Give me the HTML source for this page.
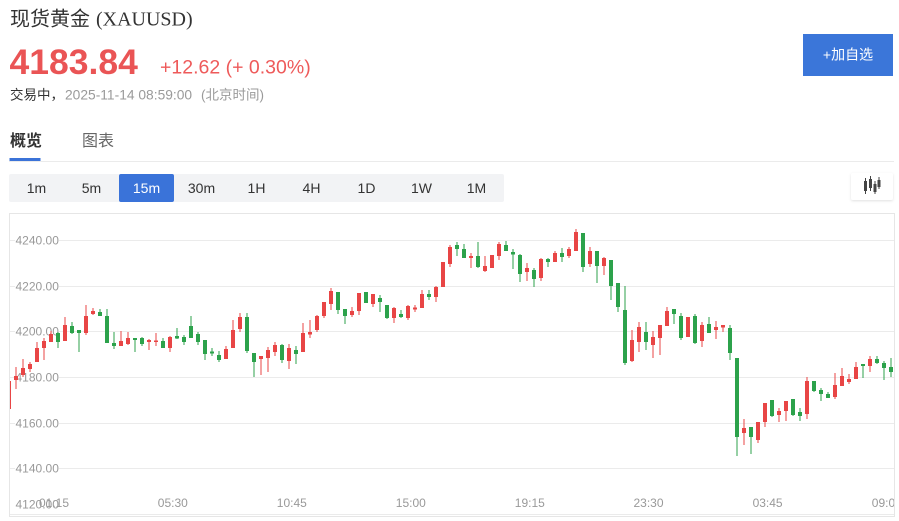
<!DOCTYPE html>
<html>
<head>
<meta charset="utf-8">
<style>
html,body{margin:0;padding:0;background:#fff;width:899px;height:521px;overflow:hidden;}
svg{display:block;}
text{font-family:"Liberation Sans","Noto Sans CJK SC",sans-serif;}
</style>
</head>
<body>
<svg width="899" height="521" viewBox="0 0 899 521" xmlns="http://www.w3.org/2000/svg">
<defs>
<clipPath id="cc"><rect x="10" y="214" width="884" height="302"/></clipPath>
<filter id="sh" x="-20%" y="-20%" width="140%" height="150%"><feDropShadow dx="0" dy="1" stdDeviation="1.2" flood-color="#000" flood-opacity="0.12"/></filter>
</defs>
<rect width="899" height="521" fill="#fff"/>

<text x="10" y="25.5" font-size="20" fill="#333">现货黄金</text>
<text x="96" y="25.5" font-size="20" fill="#333" style="font-family:'Liberation Serif',serif">(XAUUSD)</text>

<text x="9.5" y="74" font-size="35.5" font-weight="bold" fill="#ea5455">4183.84</text>
<text x="160" y="73.5" font-size="19.5" fill="#ee5a5a">+12.62 (+ 0.30%)</text>

<text x="10" y="99.5" font-size="13.5" fill="#333">交易中，</text>
<text x="65" y="99.5" font-size="13.8" fill="#9a9a9a">2025-11-14 08:59:00</text>
<text x="201" y="99.5" font-size="13.5" fill="#9a9a9a">(北京时间)</text>

<rect x="803" y="34" width="90" height="42" fill="#3b76d9"/>
<text x="848" y="59.5" font-size="14" fill="#fff" text-anchor="middle">+加自选</text>

<text x="10" y="146" font-size="16" font-weight="bold" fill="#333">概览</text>
<text x="82" y="146" font-size="16" fill="#666">图表</text>
<rect x="9.5" y="158" width="31" height="3" fill="#3b73d8"/>
<line x1="9" y1="161.5" x2="894" y2="161.5" stroke="#ebebeb" stroke-width="1"/>

<rect x="9" y="174" width="495" height="28" rx="2" fill="#f2f3f5"/>
<rect x="119" y="174" width="55" height="28" rx="2" fill="#3a73d9"/>
<g font-size="14" fill="#333" text-anchor="middle">
<text x="36.5" y="193">1m</text>
<text x="91.5" y="193">5m</text>
<text x="146.5" y="193" fill="#fff">15m</text>
<text x="201.5" y="193">30m</text>
<text x="256.5" y="193">1H</text>
<text x="311.5" y="193">4H</text>
<text x="366.5" y="193">1D</text>
<text x="421.5" y="193">1W</text>
<text x="476.5" y="193">1M</text>
</g>

<rect x="851" y="173" width="42" height="27" rx="2" fill="#fff" filter="url(#sh)"/>
<g fill="#444">
<rect x="865" y="178" width="1" height="16"/><rect x="864" y="181" width="3" height="10"/>
<rect x="870" y="176" width="1" height="15"/><rect x="869" y="179" width="3" height="9"/>
<rect x="874.5" y="181" width="1" height="13"/><rect x="873.5" y="184" width="3" height="8"/>
<rect x="878.5" y="177" width="1" height="12"/><rect x="877.5" y="180" width="3" height="7"/>
</g>

<rect x="9.5" y="213.5" width="885" height="303" fill="#fff" stroke="#e6e6e6" stroke-width="1"/>

<g stroke="#ebebeb" stroke-width="1">
<line x1="10" y1="240.5" x2="894" y2="240.5"/>
<line x1="10" y1="286.5" x2="894" y2="286.5"/>
<line x1="10" y1="331.5" x2="894" y2="331.5"/>
<line x1="10" y1="377.5" x2="894" y2="377.5"/>
<line x1="10" y1="423.5" x2="894" y2="423.5"/>
<line x1="10" y1="468.5" x2="894" y2="468.5"/>
<line x1="10" y1="514.5" x2="894" y2="514.5"/>
</g>

<g fill="#fff">
<rect x="15" y="234" width="44" height="13"/>
<rect x="15" y="280" width="44" height="13"/>
<rect x="15" y="325" width="44" height="13"/>
<rect x="15" y="371" width="44" height="13"/>
<rect x="15" y="417" width="44" height="13"/>
<rect x="15" y="462" width="44" height="13"/>
</g>
<g font-size="12" fill="#999">
<text x="15.5" y="244.5">4240.00</text>
<text x="15.5" y="290.5">4220.00</text>
<text x="15.5" y="335.5">4200.00</text>
<text x="15.5" y="381.5">4180.00</text>
<text x="15.5" y="427.5">4160.00</text>
<text x="15.5" y="472.5">4140.00</text>
<text x="15.5" y="508.5">4120.00</text>
</g>

<g clip-path="url(#cc)">
<g font-size="12" fill="#999" text-anchor="middle">
<text x="54" y="507">01:15</text>
<text x="172.8" y="507">05:30</text>
<text x="291.8" y="507">10:45</text>
<text x="410.8" y="507">15:00</text>
<text x="529.8" y="507">19:15</text>
<text x="648.5" y="507">23:30</text>
<text x="767.6" y="507">03:45</text>
<text x="886.8" y="507">09:00</text>
</g>

<path fill="#e84545" d="M8.5 381h1V409h-1zM7 381h4V409h-4zM15.5 367h1V389h-1zM14 376h4V380h-4zM22.5 359h1V377h-1zM21 368h4V375h-4zM29.5 362h1V372h-1zM28 364h4V369h-4zM36.5 342h1V362h-1zM35 348h4V362h-4zM43.5 338h1V360h-1zM42 341h4V348h-4zM50.5 331h1V342h-1zM49 334h4V342h-4zM64.5 317h1V341h-1zM63 325h4V341h-4zM85.5 305h1V335h-1zM84 316h4V333h-4zM92.5 308h1V315h-1zM91 311h4V314h-4zM120.5 331h1V346h-1zM119 341h4V346h-4zM127.5 332h1V345h-1zM126 338h4V344h-4zM148.5 339h1V350h-1zM147 340h4V342h-4zM155.5 333h1V346h-1zM154 340.5h4V342h-4zM169.5 336h1V352h-1zM168 337h4V348h-4zM225.5 346h1V359h-1zM224 349h4V359h-4zM232.5 320h1V348h-1zM231 330h4V348h-4zM239.5 313h1V332h-1zM238 317h4V329h-4zM260.5 356h1V375h-1zM259 356h4V359h-4zM267.5 347h1V372h-1zM266 350h4V358h-4zM274.5 342h1V356h-1zM273 345h4V352h-4zM288.5 344h1V369h-1zM287 348h4V361h-4zM302.5 323h1V352h-1zM301 333h4V352h-4zM309.5 320h1V338h-1zM308 332h4V334.5h-4zM316.5 315h1V332h-1zM315 316h4V330h-4zM323.5 302h1V318h-1zM322 302h4V316h-4zM330.5 288h1V310h-1zM329 291h4V304h-4zM351.5 307h1V317h-1zM350 311h4V315h-4zM358.5 293h1V315h-1zM357 293h4V311h-4zM372.5 294h1V307h-1zM371 294h4V304h-4zM393.5 307h1V323h-1zM392 308h4V318h-4zM407.5 305h1V320h-1zM406 306h4V318h-4zM414.5 305h1V312h-1zM413 307.5h4V309.5h-4zM421.5 290h1V308h-1zM420 294h4V308h-4zM435.5 286h1V302h-1zM434 287h4V297h-4zM442.5 262h1V287h-1zM441 262h4V287h-4zM449.5 245h1V267h-1zM448 247h4V264h-4zM470.5 253h1V268h-1zM469 256h4V258h-4zM484.5 256h1V272h-1zM483 266h4V271h-4zM491.5 255h1V268h-1zM490 255h4V268h-4zM498.5 242h1V260h-1zM497 244h4V256h-4zM526.5 263h1V281h-1zM525 268h4V272h-4zM540.5 258h1V281h-1zM539 259h4V278h-4zM554.5 251h1V262h-1zM553 253h4V262h-4zM568.5 247h1V258h-1zM567 249h4V256h-4zM575.5 229h1V251h-1zM574 232h4V251h-4zM589.5 247h1V267h-1zM588 251h4V264h-4zM603.5 257h1V275h-1zM602 258h4V266h-4zM631.5 330h1V362h-1zM630 340h4V361h-4zM638.5 322h1V352h-1zM637 327h4V342h-4zM652.5 331h1V358h-1zM651 337h4V345h-4zM659.5 325h1V355h-1zM658 325h4V338h-4zM666.5 307h1V326h-1zM665 311h4V326h-4zM687.5 317h1V337h-1zM686 317h4V337h-4zM701.5 322h1V347h-1zM700 325h4V341h-4zM715.5 321h1V339h-1zM714 327h4V330h-4zM722.5 325h1V332h-1zM721 325h4V327.5h-4zM743.5 419h1V445h-1zM742 428h4V433h-4zM757.5 422h1V443h-1zM756 422h4V440h-4zM764.5 403h1V427h-1zM763 403h4V422h-4zM778.5 408h1V422h-1zM777 411h4V415h-4zM785.5 401h1V421h-1zM784 401h4V411h-4zM806.5 377h1V419h-1zM805 381h4V414h-4zM834.5 373h1V399h-1zM833 385h4V397h-4zM841.5 368h1V386h-1zM840 376h4V386h-4zM848.5 374h1V384h-1zM847 379h4V382h-4zM855.5 362h1V379h-1zM854 367h4V379h-4zM869.5 356h1V372h-1zM868 359h4V366h-4z"/>

<path fill="#2ca24b" d="M57.5 332h1V348h-1zM56 333h4V342h-4zM71.5 322h1V334h-1zM70 326h4V333h-4zM78.5 330h1V352h-1zM77 330h4V333h-4zM99.5 309h1V316h-1zM98 312h4V316h-4zM106.5 309h1V343h-1zM105 316h4V343h-4zM113.5 332h1V349h-1zM112 343h4V346h-4zM134.5 338h1V352h-1zM133 338h4V340h-4zM141.5 337h1V346h-1zM140 338h4V344h-4zM162.5 338h1V348h-1zM161 341h4V348h-4zM176.5 328h1V339h-1zM175 336h4V338.5h-4zM183.5 335h1V345h-1zM182 337h4V342h-4zM190.5 316h1V338h-1zM189 326h4V338h-4zM197.5 332h1V345h-1zM196 334h4V342h-4zM204.5 340h1V360h-1zM203 340h4V354h-4zM211.5 348h1V356h-1zM210 351.5h4V353.5h-4zM218.5 351h1V362h-1zM217 355h4V360h-4zM246.5 313h1V353h-1zM245 317h4V351h-4zM253.5 353h1V377h-1zM252 353h4V362h-4zM281.5 344h1V363h-1zM280 345h4V360h-4zM295.5 346h1V364h-1zM294 350h4V354h-4zM337.5 292h1V314h-1zM336 292h4V310h-4zM344.5 309h1V324h-1zM343 309h4V316h-4zM365.5 292h1V303h-1zM364 292h4V303h-4zM379.5 295h1V312h-1zM378 298h4V302h-4zM386.5 305h1V319h-1zM385 305h4V318h-4zM400.5 310h1V318h-1zM399 314h4V317h-4zM428.5 290h1V300h-1zM427 294h4V297h-4zM456.5 242h1V256h-1zM455 245h4V249h-4zM463.5 244h1V258h-1zM462 249h4V258h-4zM477.5 242h1V268h-1zM476 256h4V267h-4zM505.5 241h1V251h-1zM504 245h4V251h-4zM512.5 249h1V269h-1zM511 252h4V254.5h-4zM519.5 254h1V282h-1zM518 255h4V274h-4zM533.5 268h1V287h-1zM532 270h4V279h-4zM547.5 258h1V267h-1zM546 259h4V262h-4zM561.5 248h1V262h-1zM560 253h4V257h-4zM582.5 233h1V272h-1zM581 233h4V267h-4zM596.5 251h1V283h-1zM595 251h4V266h-4zM610.5 260h1V300h-1zM609 260h4V286h-4zM617.5 283h1V312h-1zM616 283h4V307h-4zM624.5 286h1V365h-1zM623 310h4V363h-4zM645.5 322h1V350h-1zM644 332h4V342h-4zM673.5 309h1V324h-1zM672 309h4V314h-4zM680.5 313h1V340h-1zM679 316h4V338h-4zM694.5 314h1V344h-1zM693 316h4V343h-4zM708.5 317h1V333h-1zM707 324h4V333h-4zM729.5 325h1V360h-1zM728 328h4V353h-4zM736.5 358h1V456h-1zM735 358h4V437h-4zM750.5 427h1V454h-1zM749 427h4V437h-4zM771.5 400h1V417h-1zM770 400h4V416h-4zM792.5 399h1V416h-1zM791 399h4V415h-4zM799.5 408h1V421h-1zM798 412h4V416h-4zM813.5 381h1V392h-1zM812 381h4V391h-4zM820.5 388h1V401h-1zM819 390h4V394h-4zM827.5 392h1V398h-1zM826 394h4V398h-4zM862.5 364h1V378h-1zM861 364h4V366h-4zM876.5 356h1V364h-1zM875 359h4V363h-4zM883.5 361h1V380h-1zM882 363h4V368h-4zM890.5 358h1V377h-1zM889 367h4V372h-4z"/>
</g>
</svg>
</body>
</html>
